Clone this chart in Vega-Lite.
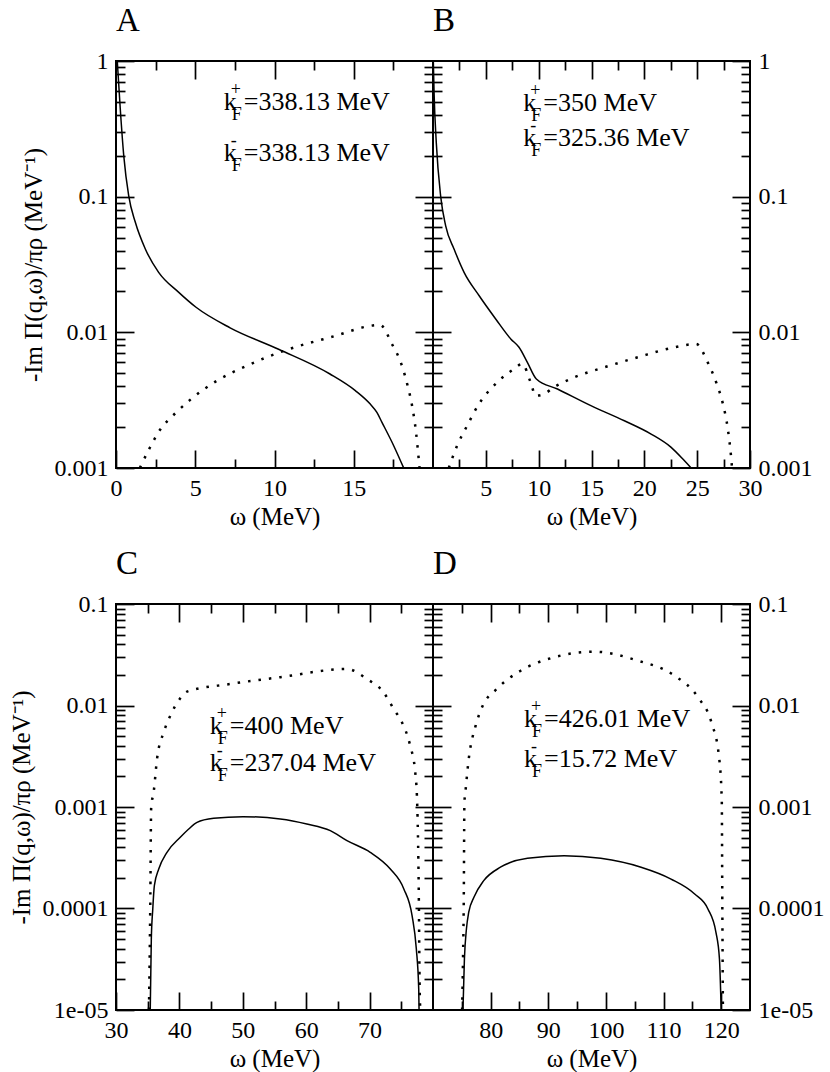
{
  "$schema": "https://vega.github.io/schema/vega-lite/v6.json",
  "padding": {"left": 8, "top": 4, "right": 8, "bottom": 4},
  "config": {
    "view": {"stroke": "black", "strokeWidth": 2},
    "axis": {
      "domain": false, "grid": false,
      "tickColor": "black", "tickWidth": 1.7,
      "labelFont": "Liberation Serif", "labelFontSize": 24, "labelColor": "black",
      "titleFont": "Liberation Serif", "titleFontSize": 25, "titleFontWeight": "normal", "titleColor": "black",
      "labelFlush": false, "labelOverlap": false
    },
    "title": {"anchor": "start", "frame": "group", "font": "Liberation Serif", "fontSize": 33, "fontWeight": "normal", "color": "black", "baseline": "alphabetic", "offset": 11}
  },
  "datasets": {
    "A": [
      {"w": 0.08, "v": 1.0, "c": "solid"}, {"w": 0.27, "v": 0.443, "c": "solid"}, {"w": 0.49, "v": 0.2, "c": "solid"},
      {"w": 0.8, "v": 0.1016, "c": "solid"}, {"w": 1.22, "v": 0.0647, "c": "solid"}, {"w": 1.85, "v": 0.0411, "c": "solid"},
      {"w": 2.69, "v": 0.0277, "c": "solid"}, {"w": 3.96, "v": 0.0197, "c": "solid"}, {"w": 5.05, "v": 0.0153, "c": "solid"},
      {"w": 7.2, "v": 0.0108, "c": "solid"}, {"w": 10.26, "v": 0.0075, "c": "solid"}, {"w": 13.5, "v": 0.00493, "c": "solid"},
      {"w": 15.1, "v": 0.00372, "c": "solid"}, {"w": 16.04, "v": 0.00296, "c": "solid"}, {"w": 16.46, "v": 0.00257, "c": "solid"},
      {"w": 16.78, "v": 0.00217, "c": "solid"}, {"w": 17.52, "v": 0.00146, "c": "solid"}, {"w": 18.15, "v": 0.001, "c": "solid"},
      {"w": 1.5, "v": 0.001, "c": "dotted"}, {"w": 2.12, "v": 0.0014, "c": "dotted"}, {"w": 2.79, "v": 0.00192, "c": "dotted"},
      {"w": 3.74, "v": 0.00253, "c": "dotted"}, {"w": 4.75, "v": 0.00323, "c": "dotted"}, {"w": 6.37, "v": 0.0044, "c": "dotted"},
      {"w": 8.26, "v": 0.00568, "c": "dotted"}, {"w": 10.75, "v": 0.00741, "c": "dotted"}, {"w": 13.52, "v": 0.00919, "c": "dotted"},
      {"w": 16.67, "v": 0.01133, "c": "dotted"}, {"w": 17.41, "v": 0.0082, "c": "dotted"}, {"w": 18.0, "v": 0.00585, "c": "dotted"},
      {"w": 18.4, "v": 0.00404, "c": "dotted"}, {"w": 18.68, "v": 0.00288, "c": "dotted"}, {"w": 18.93, "v": 0.00183, "c": "dotted"},
      {"w": 19.1, "v": 0.00116, "c": "dotted"}, {"w": 19.15, "v": 0.001, "c": "dotted"}
    ],
    "B": [
      {"w": 0.03, "v": 1.0, "c": "solid"}, {"w": 0.1, "v": 0.588, "c": "solid"}, {"w": 0.31, "v": 0.251, "c": "solid"},
      {"w": 0.73, "v": 0.1, "c": "solid"}, {"w": 1.2, "v": 0.061, "c": "solid"}, {"w": 2.0, "v": 0.041, "c": "solid"},
      {"w": 2.94, "v": 0.0277, "c": "solid"}, {"w": 4.37, "v": 0.0186, "c": "solid"}, {"w": 5.95, "v": 0.0125, "c": "solid"},
      {"w": 7.38, "v": 0.0089, "c": "solid"}, {"w": 8.14, "v": 0.00776, "c": "solid"}, {"w": 8.93, "v": 0.00601, "c": "solid"},
      {"w": 9.78, "v": 0.00453, "c": "solid"}, {"w": 11.78, "v": 0.00382, "c": "solid"}, {"w": 14.94, "v": 0.00288, "c": "solid"},
      {"w": 18.11, "v": 0.00223, "c": "solid"}, {"w": 20.64, "v": 0.00178, "c": "solid"}, {"w": 22.54, "v": 0.00142, "c": "solid"},
      {"w": 23.8, "v": 0.00113, "c": "solid"}, {"w": 24.43, "v": 0.001, "c": "solid"},
      {"w": 1.49, "v": 0.001, "c": "dotted"}, {"w": 2.28, "v": 0.00146, "c": "dotted"}, {"w": 3.23, "v": 0.00205, "c": "dotted"},
      {"w": 4.34, "v": 0.00296, "c": "dotted"}, {"w": 6.08, "v": 0.00428, "c": "dotted"}, {"w": 7.66, "v": 0.00537, "c": "dotted"},
      {"w": 8.45, "v": 0.00585, "c": "dotted"}, {"w": 9.24, "v": 0.00428, "c": "dotted"}, {"w": 9.72, "v": 0.00341, "c": "dotted"},
      {"w": 10.5, "v": 0.00351, "c": "dotted"}, {"w": 11.46, "v": 0.00394, "c": "dotted"}, {"w": 13.36, "v": 0.00466, "c": "dotted"},
      {"w": 16.21, "v": 0.00552, "c": "dotted"}, {"w": 19.37, "v": 0.00655, "c": "dotted"}, {"w": 22.86, "v": 0.00776, "c": "dotted"},
      {"w": 24.9, "v": 0.0082, "c": "dotted"}, {"w": 26.0, "v": 0.00601, "c": "dotted"}, {"w": 26.8, "v": 0.00428, "c": "dotted"},
      {"w": 27.44, "v": 0.00296, "c": "dotted"}, {"w": 27.9, "v": 0.00194, "c": "dotted"}, {"w": 28.2, "v": 0.00123, "c": "dotted"},
      {"w": 28.3, "v": 0.001, "c": "dotted"}
    ],
    "C": [
      {"w": 35.4, "v": 0.00001, "c": "solid"}, {"w": 35.57, "v": 0.00005, "c": "solid"}, {"w": 35.8, "v": 0.000099, "c": "solid"},
      {"w": 36.05, "v": 0.000168, "c": "solid"}, {"w": 36.74, "v": 0.000245, "c": "solid"}, {"w": 38.04, "v": 0.000358, "c": "solid"},
      {"w": 40.14, "v": 0.000503, "c": "solid"}, {"w": 41.47, "v": 0.000607, "c": "solid"}, {"w": 42.78, "v": 0.000706, "c": "solid"},
      {"w": 45.4, "v": 0.000773, "c": "solid"}, {"w": 50.03, "v": 0.000803, "c": "solid"}, {"w": 55.9, "v": 0.000762, "c": "solid"},
      {"w": 60.1, "v": 0.00068, "c": "solid"}, {"w": 63.8, "v": 0.000585, "c": "solid"}, {"w": 66.43, "v": 0.000466, "c": "solid"},
      {"w": 70.1, "v": 0.000358, "c": "solid"}, {"w": 73.27, "v": 0.000245, "c": "solid"}, {"w": 75.4, "v": 0.000156, "c": "solid"},
      {"w": 76.7, "v": 0.000085, "c": "solid"}, {"w": 77.37, "v": 0.00004, "c": "solid"}, {"w": 77.75, "v": 0.000016, "c": "solid"},
      {"w": 77.8, "v": 0.00001, "c": "solid"},
      {"w": 35.2, "v": 0.00001, "c": "dotted"}, {"w": 35.4, "v": 0.0001, "c": "dotted"}, {"w": 35.55, "v": 0.001, "c": "dotted"},
      {"w": 35.94, "v": 0.0014, "c": "dotted"}, {"w": 36.47, "v": 0.00297, "c": "dotted"}, {"w": 37.52, "v": 0.00544, "c": "dotted"},
      {"w": 38.57, "v": 0.00794, "c": "dotted"}, {"w": 40.05, "v": 0.0116, "c": "dotted"}, {"w": 41.2, "v": 0.0137, "c": "dotted"},
      {"w": 48.03, "v": 0.0163, "c": "dotted"}, {"w": 55.9, "v": 0.019, "c": "dotted"}, {"w": 66.4, "v": 0.0229, "c": "dotted"},
      {"w": 69.6, "v": 0.0182, "c": "dotted"}, {"w": 72.2, "v": 0.0135, "c": "dotted"}, {"w": 73.8, "v": 0.00924, "c": "dotted"},
      {"w": 75.1, "v": 0.00683, "c": "dotted"}, {"w": 76.4, "v": 0.00402, "c": "dotted"}, {"w": 77.2, "v": 0.0022, "c": "dotted"},
      {"w": 77.5, "v": 0.00111, "c": "dotted"}, {"w": 77.75, "v": 0.000156, "c": "dotted"}, {"w": 77.9, "v": 0.000016, "c": "dotted"},
      {"w": 78.0, "v": 0.00001, "c": "dotted"}
    ],
    "D": [
      {"w": 75.2, "v": 0.00001, "c": "solid"}, {"w": 75.45, "v": 0.0000318, "c": "solid"}, {"w": 75.8, "v": 0.0000628, "c": "solid"},
      {"w": 76.2, "v": 0.000092, "c": "solid"}, {"w": 77.1, "v": 0.000129, "c": "solid"}, {"w": 78.8, "v": 0.000188, "c": "solid"},
      {"w": 81.7, "v": 0.000255, "c": "solid"}, {"w": 86.4, "v": 0.000312, "c": "solid"}, {"w": 92.75, "v": 0.000331, "c": "solid"},
      {"w": 99.1, "v": 0.000312, "c": "solid"}, {"w": 106.1, "v": 0.000255, "c": "solid"}, {"w": 111.3, "v": 0.000195, "c": "solid"},
      {"w": 115.4, "v": 0.000139, "c": "solid"}, {"w": 117.7, "v": 0.000099, "c": "solid"}, {"w": 119.1, "v": 0.000058, "c": "solid"},
      {"w": 119.7, "v": 0.0000318, "c": "solid"}, {"w": 120.0, "v": 0.00001, "c": "solid"},
      {"w": 75.05, "v": 0.00001, "c": "dotted"}, {"w": 75.2, "v": 0.00003, "c": "dotted"}, {"w": 75.34, "v": 0.000124, "c": "dotted"},
      {"w": 75.45, "v": 0.00111, "c": "dotted"}, {"w": 75.62, "v": 0.0014, "c": "dotted"}, {"w": 76.2, "v": 0.00297, "c": "dotted"},
      {"w": 77.4, "v": 0.00633, "c": "dotted"}, {"w": 78.5, "v": 0.0096, "c": "dotted"}, {"w": 81.1, "v": 0.0146, "c": "dotted"},
      {"w": 85.2, "v": 0.022, "c": "dotted"}, {"w": 90.4, "v": 0.0292, "c": "dotted"}, {"w": 97.97, "v": 0.0339, "c": "dotted"},
      {"w": 105.5, "v": 0.0277, "c": "dotted"}, {"w": 111.9, "v": 0.0197, "c": "dotted"}, {"w": 116.0, "v": 0.012, "c": "dotted"},
      {"w": 118.3, "v": 0.00683, "c": "dotted"}, {"w": 119.6, "v": 0.0032, "c": "dotted"}, {"w": 120.1, "v": 0.0012, "c": "dotted"},
      {"w": 120.2, "v": 0.0001, "c": "dotted"}, {"w": 120.3, "v": 0.00001, "c": "dotted"}
    ],
    "A_lab": [
      {"w": 6.8, "v": 0.435, "sup": "+", "rest": "=338.13 MeV"},
      {"w": 6.8, "v": 0.183, "sup": "-", "rest": "=338.13 MeV"}
    ],
    "B_lab": [
      {"w": 8.55, "v": 0.43, "sup": "+", "rest": "=350 MeV"},
      {"w": 8.55, "v": 0.2376, "sup": "-", "rest": "=325.36 MeV"}
    ],
    "C_lab": [
      {"w": 44.8, "v": 0.0052, "sup": "+", "rest": "=400 MeV"},
      {"w": 44.8, "v": 0.00228, "sup": "-", "rest": "=237.04 MeV"}
    ],
    "D_lab": [
      {"w": 85.8, "v": 0.0062, "sup": "+", "rest": "=426.01 MeV"},
      {"w": 85.8, "v": 0.0025, "sup": "-", "rest": "=15.72 MeV"}
    ]
  },
  "bounds": "flush",
  "columns": 2,
  "spacing": {"row": 136, "column": 0},
  "concat": [
    {
      "width": 317, "height": 407,
      "title": "A",
      "resolve": {"axis": {"x": "independent", "y": "independent"}},
      "layer": [
        {
          "data": {"name": "A"},
          "transform": [{"filter": "datum.c == 'solid'"}],
          "mark": {"type": "line", "color": "black", "strokeWidth": 1.5, "interpolate": "monotone", "clip": true},
          "encoding": {
            "x": {"field": "w", "type": "quantitative", "scale": {"domain": [0, 20], "nice": false, "zero": false},
              "axis": {"orient": "bottom", "values": [0, 5, 10, 15], "tickSize": -18, "labelPadding": 26, "title": "ω (MeV)", "titlePadding": 4}},
            "y": {"field": "v", "type": "quantitative", "scale": {"type": "log", "domain": [0.001, 1], "nice": false},
              "axis": {"orient": "left", "values": [0.001, 0.01, 0.1, 1], "tickSize": -18, "labelPadding": 26, "title": "-Im Π(q,ω)/πρ (MeV⁻¹)", "titlePadding": 8,
                "labelExpr": "datum.value > 0.5 ? '1' : datum.value > 0.05 ? '0.1' : datum.value > 0.005 ? '0.01' : datum.value > 0.0005 ? '0.001' : datum.value > 0.00005 ? '0.0001' : '1e-05'"}}
          }
        },
        {
          "data": {"name": "A"},
          "transform": [{"filter": "datum.c == 'dotted'"}],
          "mark": {"type": "line", "color": "black", "strokeWidth": 2.5, "strokeDash": [2.5, 8], "interpolate": "monotone", "clip": true},
          "encoding": {
            "x": {"field": "w", "type": "quantitative", "scale": {"domain": [0, 20], "nice": false, "zero": false},
              "axis": {"orient": "bottom", "values": [2.5, 7.5, 12.5, 17.5], "tickSize": -9, "labels": false, "title": null}},
            "y": {"field": "v", "type": "quantitative", "scale": {"type": "log", "domain": [0.001, 1], "nice": false},
              "axis": {"orient": "left", "values": [0.002, 0.003, 0.004, 0.005, 0.006, 0.007, 0.008, 0.009, 0.02, 0.03, 0.04, 0.05, 0.06, 0.07, 0.08, 0.09, 0.2, 0.3, 0.4, 0.5, 0.6, 0.7, 0.8, 0.9], "tickSize": -9, "labels": false, "title": null}}
          }
        },
        {
          "data": {"name": "A_lab"},
          "mark": {"type": "text", "text": "k", "align": "left", "baseline": "alphabetic", "font": "Liberation Serif", "fontSize": 26, "color": "black"},
          "encoding": {
            "x": {"field": "w", "type": "quantitative", "scale": {"domain": [0, 20], "nice": false, "zero": false},
              "axis": {"orient": "top", "values": [5, 10, 15], "tickSize": -18, "labels": false, "title": null}},
            "y": {"field": "v", "type": "quantitative", "scale": {"type": "log", "domain": [0.001, 1], "nice": false},
              "axis": {"orient": "right", "values": [0.01, 0.1], "tickSize": -18, "labels": false, "title": null}}
          }
        },
        {
          "data": {"name": "A_lab"},
          "mark": {"type": "text", "align": "left", "baseline": "alphabetic", "font": "Liberation Serif", "fontSize": 26, "color": "black", "dx": 20},
          "encoding": {
            "text": {"field": "rest"},
            "x": {"field": "w", "type": "quantitative", "scale": {"domain": [0, 20], "nice": false, "zero": false},
              "axis": {"orient": "top", "values": [2.5, 7.5, 12.5, 17.5], "tickSize": -9, "labels": false, "title": null}},
            "y": {"field": "v", "type": "quantitative", "scale": {"type": "log", "domain": [0.001, 1], "nice": false},
              "axis": {"orient": "right", "values": [0.002, 0.003, 0.004, 0.005, 0.006, 0.007, 0.008, 0.009, 0.02, 0.03, 0.04, 0.05, 0.06, 0.07, 0.08, 0.09, 0.2, 0.3, 0.4, 0.5, 0.6, 0.7, 0.8, 0.9], "tickSize": -9, "labels": false, "title": null}}
          }
        },
        {
          "data": {"name": "A_lab"},
          "mark": {"type": "text", "align": "left", "baseline": "alphabetic", "font": "Liberation Serif", "fontSize": 18, "color": "black", "dx": 7, "dy": -15},
          "encoding": {
            "text": {"field": "sup"},
            "x": {"field": "w", "type": "quantitative", "scale": {"domain": [0, 20], "nice": false, "zero": false}, "axis": null},
            "y": {"field": "v", "type": "quantitative", "scale": {"type": "log", "domain": [0.001, 1], "nice": false}, "axis": null}
          }
        },
        {
          "data": {"name": "A_lab"},
          "mark": {"type": "text", "text": "F", "align": "left", "baseline": "alphabetic", "font": "Liberation Serif", "fontSize": 18, "color": "black", "dx": 8, "dy": 10},
          "encoding": {
            "x": {"field": "w", "type": "quantitative", "scale": {"domain": [0, 20], "nice": false, "zero": false}, "axis": null},
            "y": {"field": "v", "type": "quantitative", "scale": {"type": "log", "domain": [0.001, 1], "nice": false}, "axis": null}
          }
        }
      ]
    },
    {
      "width": 317, "height": 407,
      "title": "B",
      "resolve": {"axis": {"x": "independent", "y": "independent"}},
      "layer": [
        {
          "data": {"name": "B"},
          "transform": [{"filter": "datum.c == 'solid'"}],
          "mark": {"type": "line", "color": "black", "strokeWidth": 1.5, "interpolate": "monotone", "clip": true},
          "encoding": {
            "x": {"field": "w", "type": "quantitative", "scale": {"domain": [0, 30], "nice": false, "zero": false},
              "axis": {"orient": "bottom", "values": [5, 10, 15, 20, 25, 30], "tickSize": -18, "labelPadding": 26, "title": "ω (MeV)", "titlePadding": 4}},
            "y": {"field": "v", "type": "quantitative", "scale": {"type": "log", "domain": [0.001, 1], "nice": false},
              "axis": {"orient": "right", "values": [0.001, 0.01, 0.1, 1], "tickSize": -18, "labelPadding": 26, "title": null,
                "labelExpr": "datum.value > 0.5 ? '1' : datum.value > 0.05 ? '0.1' : datum.value > 0.005 ? '0.01' : datum.value > 0.0005 ? '0.001' : datum.value > 0.00005 ? '0.0001' : '1e-05'"}}
          }
        },
        {
          "data": {"name": "B"},
          "transform": [{"filter": "datum.c == 'dotted'"}],
          "mark": {"type": "line", "color": "black", "strokeWidth": 2.5, "strokeDash": [2.5, 8], "interpolate": "monotone", "clip": true},
          "encoding": {
            "x": {"field": "w", "type": "quantitative", "scale": {"domain": [0, 30], "nice": false, "zero": false},
              "axis": {"orient": "bottom", "values": [2.5, 7.5, 12.5, 17.5, 22.5, 27.5], "tickSize": -9, "labels": false, "title": null}},
            "y": {"field": "v", "type": "quantitative", "scale": {"type": "log", "domain": [0.001, 1], "nice": false},
              "axis": {"orient": "right", "values": [0.002, 0.003, 0.004, 0.005, 0.006, 0.007, 0.008, 0.009, 0.02, 0.03, 0.04, 0.05, 0.06, 0.07, 0.08, 0.09, 0.2, 0.3, 0.4, 0.5, 0.6, 0.7, 0.8, 0.9], "tickSize": -9, "labels": false, "title": null}}
          }
        },
        {
          "data": {"name": "B_lab"},
          "mark": {"type": "text", "text": "k", "align": "left", "baseline": "alphabetic", "font": "Liberation Serif", "fontSize": 26, "color": "black"},
          "encoding": {
            "x": {"field": "w", "type": "quantitative", "scale": {"domain": [0, 30], "nice": false, "zero": false},
              "axis": {"orient": "top", "values": [5, 10, 15, 20, 25], "tickSize": -18, "labels": false, "title": null}},
            "y": {"field": "v", "type": "quantitative", "scale": {"type": "log", "domain": [0.001, 1], "nice": false},
              "axis": {"orient": "left", "values": [0.01, 0.1], "tickSize": -18, "labels": false, "title": null}}
          }
        },
        {
          "data": {"name": "B_lab"},
          "mark": {"type": "text", "align": "left", "baseline": "alphabetic", "font": "Liberation Serif", "fontSize": 26, "color": "black", "dx": 20},
          "encoding": {
            "text": {"field": "rest"},
            "x": {"field": "w", "type": "quantitative", "scale": {"domain": [0, 30], "nice": false, "zero": false},
              "axis": {"orient": "top", "values": [2.5, 7.5, 12.5, 17.5, 22.5, 27.5], "tickSize": -9, "labels": false, "title": null}},
            "y": {"field": "v", "type": "quantitative", "scale": {"type": "log", "domain": [0.001, 1], "nice": false},
              "axis": {"orient": "left", "values": [0.002, 0.003, 0.004, 0.005, 0.006, 0.007, 0.008, 0.009, 0.02, 0.03, 0.04, 0.05, 0.06, 0.07, 0.08, 0.09, 0.2, 0.3, 0.4, 0.5, 0.6, 0.7, 0.8, 0.9], "tickSize": -9, "labels": false, "title": null}}
          }
        },
        {
          "data": {"name": "B_lab"},
          "mark": {"type": "text", "align": "left", "baseline": "alphabetic", "font": "Liberation Serif", "fontSize": 18, "color": "black", "dx": 7, "dy": -15},
          "encoding": {
            "text": {"field": "sup"},
            "x": {"field": "w", "type": "quantitative", "scale": {"domain": [0, 30], "nice": false, "zero": false}, "axis": null},
            "y": {"field": "v", "type": "quantitative", "scale": {"type": "log", "domain": [0.001, 1], "nice": false}, "axis": null}
          }
        },
        {
          "data": {"name": "B_lab"},
          "mark": {"type": "text", "text": "F", "align": "left", "baseline": "alphabetic", "font": "Liberation Serif", "fontSize": 18, "color": "black", "dx": 8, "dy": 10},
          "encoding": {
            "x": {"field": "w", "type": "quantitative", "scale": {"domain": [0, 30], "nice": false, "zero": false}, "axis": null},
            "y": {"field": "v", "type": "quantitative", "scale": {"type": "log", "domain": [0.001, 1], "nice": false}, "axis": null}
          }
        }
      ]
    },
    {
      "width": 317, "height": 406,
      "title": "C",
      "resolve": {"axis": {"x": "independent", "y": "independent"}},
      "layer": [
        {
          "data": {"name": "C"},
          "transform": [{"filter": "datum.c == 'solid'"}],
          "mark": {"type": "line", "color": "black", "strokeWidth": 1.5, "interpolate": "monotone", "clip": true},
          "encoding": {
            "x": {"field": "w", "type": "quantitative", "scale": {"domain": [30, 80], "nice": false, "zero": false},
              "axis": {"orient": "bottom", "values": [30, 40, 50, 60, 70], "tickSize": -18, "labelPadding": 26, "title": "ω (MeV)", "titlePadding": 4}},
            "y": {"field": "v", "type": "quantitative", "scale": {"type": "log", "domain": [0.00001, 0.1], "nice": false},
              "axis": {"orient": "left", "values": [0.00001, 0.0001, 0.001, 0.01, 0.1], "tickSize": -18, "labelPadding": 26, "title": "-Im Π(q,ω)/πρ (MeV⁻¹)", "titlePadding": 8,
                "labelExpr": "datum.value > 0.5 ? '1' : datum.value > 0.05 ? '0.1' : datum.value > 0.005 ? '0.01' : datum.value > 0.0005 ? '0.001' : datum.value > 0.00005 ? '0.0001' : '1e-05'"}}
          }
        },
        {
          "data": {"name": "C"},
          "transform": [{"filter": "datum.c == 'dotted'"}],
          "mark": {"type": "line", "color": "black", "strokeWidth": 2.5, "strokeDash": [2.5, 8], "interpolate": "monotone", "clip": true},
          "encoding": {
            "x": {"field": "w", "type": "quantitative", "scale": {"domain": [30, 80], "nice": false, "zero": false},
              "axis": {"orient": "bottom", "values": [35, 45, 55, 65, 75], "tickSize": -9, "labels": false, "title": null}},
            "y": {"field": "v", "type": "quantitative", "scale": {"type": "log", "domain": [0.00001, 0.1], "nice": false},
              "axis": {"orient": "left", "values": [0.00002, 0.00003, 0.00004, 0.00005, 0.00006, 0.00007, 0.00008, 0.00009, 0.0002, 0.0003, 0.0004, 0.0005, 0.0006, 0.0007, 0.0008, 0.0009, 0.002, 0.003, 0.004, 0.005, 0.006, 0.007, 0.008, 0.009, 0.02, 0.03, 0.04, 0.05, 0.06, 0.07, 0.08, 0.09], "tickSize": -9, "labels": false, "title": null}}
          }
        },
        {
          "data": {"name": "C_lab"},
          "mark": {"type": "text", "text": "k", "align": "left", "baseline": "alphabetic", "font": "Liberation Serif", "fontSize": 26, "color": "black"},
          "encoding": {
            "x": {"field": "w", "type": "quantitative", "scale": {"domain": [30, 80], "nice": false, "zero": false},
              "axis": {"orient": "top", "values": [40, 50, 60, 70], "tickSize": -18, "labels": false, "title": null}},
            "y": {"field": "v", "type": "quantitative", "scale": {"type": "log", "domain": [0.00001, 0.1], "nice": false},
              "axis": {"orient": "right", "values": [0.0001, 0.001, 0.01], "tickSize": -18, "labels": false, "title": null}}
          }
        },
        {
          "data": {"name": "C_lab"},
          "mark": {"type": "text", "align": "left", "baseline": "alphabetic", "font": "Liberation Serif", "fontSize": 26, "color": "black", "dx": 20},
          "encoding": {
            "text": {"field": "rest"},
            "x": {"field": "w", "type": "quantitative", "scale": {"domain": [30, 80], "nice": false, "zero": false},
              "axis": {"orient": "top", "values": [35, 45, 55, 65, 75], "tickSize": -9, "labels": false, "title": null}},
            "y": {"field": "v", "type": "quantitative", "scale": {"type": "log", "domain": [0.00001, 0.1], "nice": false},
              "axis": {"orient": "right", "values": [0.00002, 0.00003, 0.00004, 0.00005, 0.00006, 0.00007, 0.00008, 0.00009, 0.0002, 0.0003, 0.0004, 0.0005, 0.0006, 0.0007, 0.0008, 0.0009, 0.002, 0.003, 0.004, 0.005, 0.006, 0.007, 0.008, 0.009, 0.02, 0.03, 0.04, 0.05, 0.06, 0.07, 0.08, 0.09], "tickSize": -9, "labels": false, "title": null}}
          }
        },
        {
          "data": {"name": "C_lab"},
          "mark": {"type": "text", "align": "left", "baseline": "alphabetic", "font": "Liberation Serif", "fontSize": 18, "color": "black", "dx": 7, "dy": -15},
          "encoding": {
            "text": {"field": "sup"},
            "x": {"field": "w", "type": "quantitative", "scale": {"domain": [30, 80], "nice": false, "zero": false}, "axis": null},
            "y": {"field": "v", "type": "quantitative", "scale": {"type": "log", "domain": [0.00001, 0.1], "nice": false}, "axis": null}
          }
        },
        {
          "data": {"name": "C_lab"},
          "mark": {"type": "text", "text": "F", "align": "left", "baseline": "alphabetic", "font": "Liberation Serif", "fontSize": 18, "color": "black", "dx": 8, "dy": 10},
          "encoding": {
            "x": {"field": "w", "type": "quantitative", "scale": {"domain": [30, 80], "nice": false, "zero": false}, "axis": null},
            "y": {"field": "v", "type": "quantitative", "scale": {"type": "log", "domain": [0.00001, 0.1], "nice": false}, "axis": null}
          }
        }
      ]
    },
    {
      "width": 317, "height": 406,
      "title": "D",
      "resolve": {"axis": {"x": "independent", "y": "independent"}},
      "layer": [
        {
          "data": {"name": "D"},
          "transform": [{"filter": "datum.c == 'solid'"}],
          "mark": {"type": "line", "color": "black", "strokeWidth": 1.5, "interpolate": "monotone", "clip": true},
          "encoding": {
            "x": {"field": "w", "type": "quantitative", "scale": {"domain": [70, 125], "nice": false, "zero": false},
              "axis": {"orient": "bottom", "values": [80, 90, 100, 110, 120], "tickSize": -18, "labelPadding": 26, "title": "ω (MeV)", "titlePadding": 4}},
            "y": {"field": "v", "type": "quantitative", "scale": {"type": "log", "domain": [0.00001, 0.1], "nice": false},
              "axis": {"orient": "right", "values": [0.00001, 0.0001, 0.001, 0.01, 0.1], "tickSize": -18, "labelPadding": 26, "title": null,
                "labelExpr": "datum.value > 0.5 ? '1' : datum.value > 0.05 ? '0.1' : datum.value > 0.005 ? '0.01' : datum.value > 0.0005 ? '0.001' : datum.value > 0.00005 ? '0.0001' : '1e-05'"}}
          }
        },
        {
          "data": {"name": "D"},
          "transform": [{"filter": "datum.c == 'dotted'"}],
          "mark": {"type": "line", "color": "black", "strokeWidth": 2.5, "strokeDash": [2.5, 8], "interpolate": "monotone", "clip": true},
          "encoding": {
            "x": {"field": "w", "type": "quantitative", "scale": {"domain": [70, 125], "nice": false, "zero": false},
              "axis": {"orient": "bottom", "values": [75, 85, 95, 105, 115], "tickSize": -9, "labels": false, "title": null}},
            "y": {"field": "v", "type": "quantitative", "scale": {"type": "log", "domain": [0.00001, 0.1], "nice": false},
              "axis": {"orient": "right", "values": [0.00002, 0.00003, 0.00004, 0.00005, 0.00006, 0.00007, 0.00008, 0.00009, 0.0002, 0.0003, 0.0004, 0.0005, 0.0006, 0.0007, 0.0008, 0.0009, 0.002, 0.003, 0.004, 0.005, 0.006, 0.007, 0.008, 0.009, 0.02, 0.03, 0.04, 0.05, 0.06, 0.07, 0.08, 0.09], "tickSize": -9, "labels": false, "title": null}}
          }
        },
        {
          "data": {"name": "D_lab"},
          "mark": {"type": "text", "text": "k", "align": "left", "baseline": "alphabetic", "font": "Liberation Serif", "fontSize": 26, "color": "black"},
          "encoding": {
            "x": {"field": "w", "type": "quantitative", "scale": {"domain": [70, 125], "nice": false, "zero": false},
              "axis": {"orient": "top", "values": [80, 90, 100, 110, 120], "tickSize": -18, "labels": false, "title": null}},
            "y": {"field": "v", "type": "quantitative", "scale": {"type": "log", "domain": [0.00001, 0.1], "nice": false},
              "axis": {"orient": "left", "values": [0.0001, 0.001, 0.01], "tickSize": -18, "labels": false, "title": null}}
          }
        },
        {
          "data": {"name": "D_lab"},
          "mark": {"type": "text", "align": "left", "baseline": "alphabetic", "font": "Liberation Serif", "fontSize": 26, "color": "black", "dx": 20},
          "encoding": {
            "text": {"field": "rest"},
            "x": {"field": "w", "type": "quantitative", "scale": {"domain": [70, 125], "nice": false, "zero": false},
              "axis": {"orient": "top", "values": [75, 85, 95, 105, 115], "tickSize": -9, "labels": false, "title": null}},
            "y": {"field": "v", "type": "quantitative", "scale": {"type": "log", "domain": [0.00001, 0.1], "nice": false},
              "axis": {"orient": "left", "values": [0.00002, 0.00003, 0.00004, 0.00005, 0.00006, 0.00007, 0.00008, 0.00009, 0.0002, 0.0003, 0.0004, 0.0005, 0.0006, 0.0007, 0.0008, 0.0009, 0.002, 0.003, 0.004, 0.005, 0.006, 0.007, 0.008, 0.009, 0.02, 0.03, 0.04, 0.05, 0.06, 0.07, 0.08, 0.09], "tickSize": -9, "labels": false, "title": null}}
          }
        },
        {
          "data": {"name": "D_lab"},
          "mark": {"type": "text", "align": "left", "baseline": "alphabetic", "font": "Liberation Serif", "fontSize": 18, "color": "black", "dx": 7, "dy": -15},
          "encoding": {
            "text": {"field": "sup"},
            "x": {"field": "w", "type": "quantitative", "scale": {"domain": [70, 125], "nice": false, "zero": false}, "axis": null},
            "y": {"field": "v", "type": "quantitative", "scale": {"type": "log", "domain": [0.00001, 0.1], "nice": false}, "axis": null}
          }
        },
        {
          "data": {"name": "D_lab"},
          "mark": {"type": "text", "text": "F", "align": "left", "baseline": "alphabetic", "font": "Liberation Serif", "fontSize": 18, "color": "black", "dx": 8, "dy": 10},
          "encoding": {
            "x": {"field": "w", "type": "quantitative", "scale": {"domain": [70, 125], "nice": false, "zero": false}, "axis": null},
            "y": {"field": "v", "type": "quantitative", "scale": {"type": "log", "domain": [0.00001, 0.1], "nice": false}, "axis": null}
          }
        }
      ]
    }
  ]
}
